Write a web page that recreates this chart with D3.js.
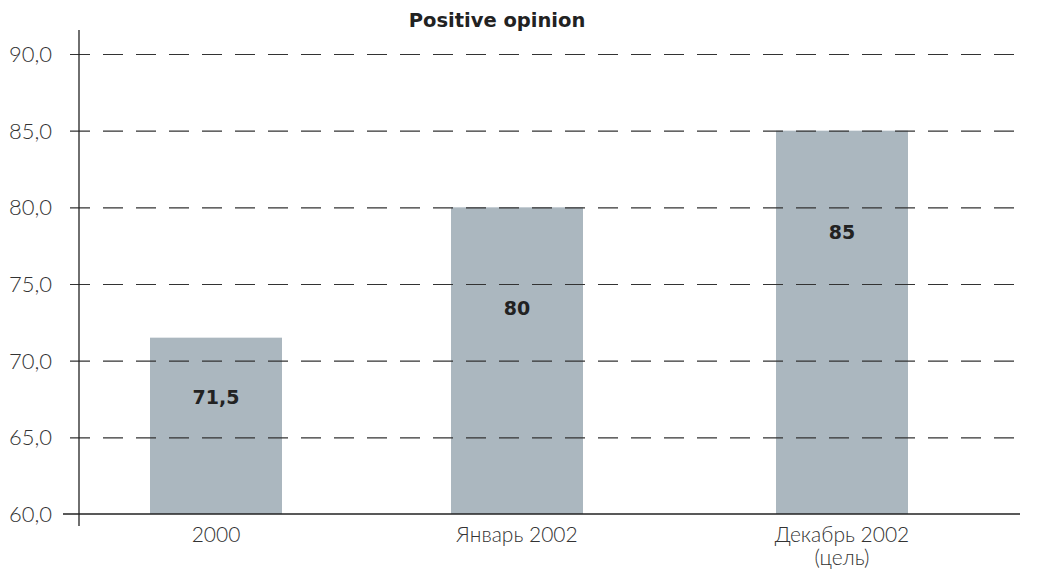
<!DOCTYPE html>
<html>
<head>
<meta charset="utf-8">
<script src="https://cdn.jsdelivr.net/npm/d3@7"></script>
<style>
  html, body { margin: 0; padding: 0; background: #fff; }
  svg { display: block; }
  .thin { font-family: "Lato", "Open Sans", sans-serif; font-weight: 300; }
  .bold { font-family: "DejaVu Sans", sans-serif; font-weight: 700; }
</style>
</head>
<body>
<div id="chart"></div>
<script>
// Positive opinion bar chart
const categories = [['2000'], ['Январь 2002'], ['Декабрь 2002', '(цель)']];
const values = [71.5, 80, 85];
const valueLabels = ['71,5', '80', '85'];
const yTicks = [60, 65, 70, 75, 80, 85, 90];

const W = 1047, H = 570;
const AXIS_X = 79, PLOT_R = 1020;
const BAR_W = 132;

const svg = d3.select('#chart').append('svg')
  .attr('width', W).attr('height', H);

const y = d3.scaleLinear().domain([60, 90]).range([514, 54]);
// category slots are not evenly spaced in the original
const x = d3.scaleLinear().domain([0, 1, 2]).range([216, 517, 842]);

// title
svg.append('text')
  .attr('class', 'bold')
  .attr('x', 497).attr('y', 27)
  .attr('text-anchor', 'middle')
  .attr('font-size', 19.5)
  .attr('fill', '#222')
  .text('Positive opinion');

// bars
svg.selectAll('.bar').data(values).enter().append('rect')
  .attr('class', 'bar')
  .attr('x', (d, i) => x(i) - BAR_W / 2)
  .attr('y', d => y(d))
  .attr('width', BAR_W)
  .attr('height', d => y(60) - y(d))
  .attr('fill', '#abb7bf');

// dashed grid lines (drawn over bars)
const grid = svg.append('g')
  .attr('transform', `translate(${AXIS_X},0)`)
  .call(d3.axisLeft(y).tickValues(yTicks.filter(t => t > 60))
    .tickSize(-(PLOT_R - AXIS_X)).tickSizeOuter(0).tickFormat(''))
  .call(g => g.select('.domain').remove());
grid.selectAll('.tick line')
  .attr('x1', -9)
  .attr('stroke', '#333').attr('stroke-width', 1.2)
  .attr('stroke-dasharray', '20 13');

// x axis line
svg.append('line')
  .attr('x1', 63).attr('x2', PLOT_R)
  .attr('y1', y(60)).attr('y2', y(60))
  .attr('stroke', '#222').attr('stroke-width', 1.3);

// y axis line
svg.append('line')
  .attr('x1', AXIS_X).attr('x2', AXIS_X)
  .attr('y1', 30).attr('y2', 526)
  .attr('stroke', '#222').attr('stroke-width', 1.3);

// y tick labels
svg.selectAll('.ylab').data(yTicks).enter().append('text')
  .attr('class', 'ylab thin')
  .attr('x', 52).attr('y', d => y(d) + 8)
  .attr('text-anchor', 'end')
  .attr('font-size', 22)
  .attr('fill', '#333')
  .text(d => d3.format('.1f')(d).replace('.', ','));

// value labels inside bars
svg.selectAll('.vlab').data(values).enter().append('text')
  .attr('class', 'vlab bold')
  .attr('x', (d, i) => x(i))
  .attr('y', d => y(d) + Math.min(0.33 * (y(60) - y(d)), 100) + 8)
  .attr('text-anchor', 'middle')
  .attr('font-size', 19)
  .attr('fill', '#222')
  .text((d, i) => valueLabels[i]);

// category labels
const cat = svg.selectAll('.clab').data(categories).enter().append('text')
  .attr('class', 'clab thin')
  .attr('text-anchor', 'middle')
  .attr('font-size', 21)
  .attr('fill', '#333');
cat.selectAll('tspan').data((d, i) => d.map(s => ({ s, i }))).enter().append('tspan')
  .attr('x', d => x(d.i))
  .attr('y', (d, j) => 542 + j * 23)
  .text(d => d.s);
</script>
</body>
</html>
